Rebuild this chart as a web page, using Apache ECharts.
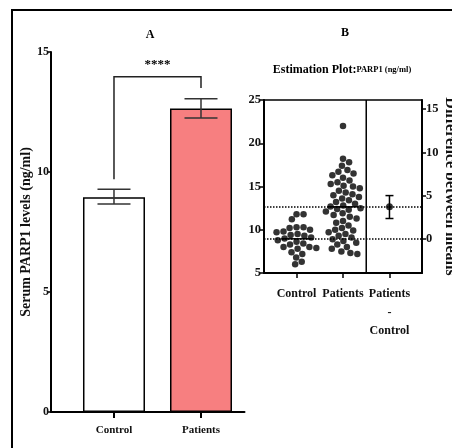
<!DOCTYPE html>
<html><head><meta charset="utf-8">
<script src="https://cdn.jsdelivr.net/npm/echarts@6/dist/echarts.min.js"></script>
<style>html,body{margin:0;padding:0;background:#fff}#c{width:452px;height:448px}</style>
</head><body><div id="c"></div>
<script>
// ---- Panel A data ----
const barCategories = ['Control', 'Patients'];
const barMeans = [8.95, 12.65];
const barErrLow = [8.67, 12.25];
const barErrHigh = [9.28, 13.05];
const barColors = ['#ffffff', '#f77f80'];
const barTicks = [0, 5, 10, 15];
const sigText = '****';
const bracketTop = 13.97;
const bracketLegs = [9.7, 13.5];
// ---- Panel B data ----
const estCategories = ['Control', 'Patients', 'Patients\n-\nControl'];
const controlValues = [11.8, 11.8, 11.2, 10.3, 10.3, 10.2, 10.0, 9.8, 9.7, 9.5, 9.4, 9.3, 9.1, 9.0, 8.8, 8.6, 8.4, 8.3, 8.0, 8.0, 7.9, 7.8, 7.4, 7.2, 6.8, 6.3, 6.0];
const patientsValues = [22.0, 18.2, 17.8, 17.4, 16.9, 16.7, 16.5, 16.3, 16.0, 15.7, 15.5, 15.3, 15.1, 15.0, 14.8,
  14.5, 14.3, 14.1, 14.0, 13.8, 13.6, 13.4, 13.2, 13.0, 12.8, 12.7, 12.5, 12.4, 12.3,
  12.1, 11.9, 11.7, 11.5, 11.3, 11.0, 10.8, 10.5, 10.2, 10.0, 9.9, 9.7,
  9.5, 9.3, 9.1, 8.9, 8.7, 8.5, 8.3, 8.0, 7.8, 7.5, 7.3, 7.2];
const groupMeans = [8.95, 12.65];
const diffMean = 3.7, diffLow = 2.35, diffHigh = 5.0;
const leftTicks = [5, 10, 15, 20, 25];
const rightTicks = [0, 5, 10, 15];

const FONT = 'Liberation Serif';
const TXT = '#111';
const chart = echarts.init(document.getElementById('c'));

const lblStyle = (size) => ({ color: TXT, fontFamily: FONT, fontWeight: 'bold', fontSize: size });

const option = {
  animation: false,
  backgroundColor: '#fff',
  graphic: [
    { type: 'rect', shape: { x: 12, y: 10, width: 520, height: 520 }, style: { fill: null, stroke: '#000', lineWidth: 2 } },
    { type: 'text', x: 150, y: 35, style: Object.assign({ text: 'A', align: 'center', verticalAlign: 'middle' }, lblStyle(12)) },
    { type: 'text', x: 345, y: 33, style: Object.assign({ text: 'B', align: 'center', verticalAlign: 'middle' }, lblStyle(12)) },
    { type: 'text', x: 342, y: 70, style: {
        text: '{a|Estimation Plot:}{b|PARP1 (ng/ml)}', align: 'center', verticalAlign: 'middle',
        rich: { a: lblStyle(12), b: lblStyle(8.5) } } }
  ],
  grid: [
    { left: 51, top: 52, width: 193.5, height: 360, outerBoundsMode: 'none', containLabel: false },
    { left: 264, top: 100, width: 158, height: 173, outerBoundsMode: 'none', containLabel: false }
  ],
  xAxis: [
    { gridIndex: 0, type: 'value', min: 0.276, max: 2.5, splitLine: { show: false },
      axisLine: { show: true, onZero: false, lineStyle: { color: '#000', width: 2 } },
      axisTick: { show: true, customValues: [1, 2], length: 6, lineStyle: { color: '#000', width: 2 } },
      axisLabel: Object.assign({ customValues: [1, 2], margin: 13, formatter: v => barCategories[Math.round(v) - 1] }, lblStyle(11)) },
    { gridIndex: 1, type: 'value', min: 0.3, max: 3.7, splitLine: { show: false },
      axisLine: { show: true, onZero: false, lineStyle: { color: '#000', width: 2 } },
      axisTick: { show: true, customValues: [1, 2, 3], length: 5, lineStyle: { color: '#000', width: 1.5 } },
      axisLabel: Object.assign({ customValues: [1, 2, 3], margin: 12, lineHeight: 18.5, verticalAlign: 'top',
        formatter: v => estCategories[Math.round(v) - 1] }, lblStyle(12)) },
    { gridIndex: 1, type: 'value', position: 'top', min: 0.3, max: 3.7, splitLine: { show: false },
      axisLine: { show: true, onZero: false, lineStyle: { color: '#000', width: 1.5 } },
      axisTick: { show: false }, axisLabel: { show: false } }
  ],
  yAxis: [
    { gridIndex: 0, type: 'value', min: 0, max: 15, interval: 5, splitLine: { show: false },
      axisLine: { show: true, lineStyle: { color: '#000', width: 2 } },
      axisTick: { show: true, length: 4, lineStyle: { color: '#000', width: 1.5 } },
      axisLabel: Object.assign({ margin: 2, customValues: barTicks }, lblStyle(12)),
      name: 'Serum PARP1 levels (ng/ml)', nameLocation: 'middle', nameGap: 16, nameRotate: 90,
      nameTextStyle: lblStyle(14) },
    { gridIndex: 1, type: 'value', min: leftTicks[0], max: leftTicks[leftTicks.length - 1], interval: 5, splitLine: { show: false },
      axisLine: { show: true, lineStyle: { color: '#000', width: 2 } },
      axisTick: { show: true, length: 4, lineStyle: { color: '#000', width: 1.5 } },
      axisLabel: Object.assign({ margin: 3 }, lblStyle(12.5)) },
    { gridIndex: 1, type: 'value', position: 'right',
      min: leftTicks[0] - groupMeans[0], max: leftTicks[leftTicks.length - 1] - groupMeans[0], splitLine: { show: false },
      axisLine: { show: true, lineStyle: { color: '#000', width: 2 } },
      axisTick: { show: true, customValues: rightTicks, length: 4, lineStyle: { color: '#000', width: 1.5 } },
      axisLabel: Object.assign({ margin: 4, customValues: rightTicks }, lblStyle(12.5)),
      name: 'Difference between means', nameLocation: 'middle', nameGap: 20, nameRotate: -90,
      nameTextStyle: lblStyle(16) }
  ],
  series: [
    { type: 'bar', xAxisIndex: 0, yAxisIndex: 0, barWidth: 62,
      data: barMeans.map((m, i) => ({ value: [i + 1, m], itemStyle: { color: barColors[i], borderColor: '#000', borderWidth: 1.5 } })) },
    { type: 'custom', xAxisIndex: 0, yAxisIndex: 0, z: 5,
      data: barMeans.map((m, i) => [i + 1, barErrLow[i], barErrHigh[i]]),
      renderItem: (params, api) => {
        const lo = api.coord([api.value(0), api.value(1)]);
        const hi = api.coord([api.value(0), api.value(2)]);
        const hw = 16.5, st = { stroke: '#333', lineWidth: 1.5 };
        return { type: 'group', children: [
          { type: 'line', shape: { x1: lo[0], y1: lo[1], x2: hi[0], y2: hi[1] }, style: st },
          { type: 'line', shape: { x1: lo[0] - hw, y1: lo[1], x2: lo[0] + hw, y2: lo[1] }, style: st },
          { type: 'line', shape: { x1: hi[0] - hw, y1: hi[1], x2: hi[0] + hw, y2: hi[1] }, style: st }
        ] };
      } },
    { type: 'custom', xAxisIndex: 0, yAxisIndex: 0, z: 5,
      data: [[1, 2, bracketTop, bracketLegs[0], bracketLegs[1]]],
      renderItem: (params, api) => {
        const a = api.coord([api.value(0), api.value(3)]);
        const b = api.coord([api.value(0), api.value(2)]);
        const c = api.coord([api.value(1), api.value(2)]);
        const d = api.coord([api.value(1), api.value(4)]);
        return { type: 'group', children: [
          { type: 'polyline', shape: { points: [a, b, c, d] }, style: { stroke: '#222', lineWidth: 1.5, fill: null } },
          { type: 'text', x: (b[0] + c[0]) / 2, y: b[1] - 12, style: Object.assign({ text: sigText, align: 'center', verticalAlign: 'middle' }, lblStyle(13)) }
        ] };
      } },
    // Panel B: divider line
    { type: 'custom', xAxisIndex: 1, yAxisIndex: 1, z: 3,
      data: [[2.5, leftTicks[0], leftTicks[leftTicks.length - 1]]],
      renderItem: (params, api) => {
        const a = api.coord([api.value(0), api.value(1)]);
        const b = api.coord([api.value(0), api.value(2)]);
        return { type: 'line', shape: { x1: a[0], y1: a[1], x2: b[0], y2: b[1] }, style: { stroke: '#000', lineWidth: 1.5 } };
      },
      markLine: { silent: true, symbol: 'none', label: { show: false },
        lineStyle: { color: '#000', type: [1.5, 1.5], width: 1.5 },
        data: groupMeans.map(m => ({ yAxis: m })) } },
    // group mean lines
    { type: 'custom', xAxisIndex: 1, yAxisIndex: 1, z: 4,
      data: groupMeans.map((m, i) => [i + 1, m]),
      renderItem: (params, api) => {
        const l = api.coord([api.value(0) - 0.33, api.value(1)]);
        const r = api.coord([api.value(0) + 0.33, api.value(1)]);
        return { type: 'line', shape: { x1: l[0], y1: l[1], x2: r[0], y2: r[1] }, style: { stroke: '#000', lineWidth: 1.5 } };
      } },
    { id: 'swarm', type: 'scatter', xAxisIndex: 1, yAxisIndex: 1, symbolSize: 6.5, z: 6,
      itemStyle: { color: '#000' }, data: [] },
    // difference with CI
    { type: 'custom', xAxisIndex: 1, yAxisIndex: 2, z: 5,
      data: [[3, diffLow, diffHigh]],
      renderItem: (params, api) => {
        const lo = api.coord([api.value(0), api.value(1)]);
        const hi = api.coord([api.value(0), api.value(2)]);
        const hw = 4, st = { stroke: '#000', lineWidth: 1.5 };
        return { type: 'group', children: [
          { type: 'line', shape: { x1: lo[0], y1: lo[1], x2: hi[0], y2: hi[1] }, style: st },
          { type: 'line', shape: { x1: lo[0] - hw, y1: lo[1], x2: lo[0] + hw, y2: lo[1] }, style: st },
          { type: 'line', shape: { x1: hi[0] - hw, y1: hi[1], x2: hi[0] + hw, y2: hi[1] }, style: st }
        ] };
      } },
    { type: 'scatter', xAxisIndex: 1, yAxisIndex: 2, symbolSize: 7, z: 6, itemStyle: { color: '#000' },
      data: [[3, diffMean]] }
  ]
};
chart.setOption(option);

// deterministic beeswarm layout in pixel space
function swarm(values, cx, D) {
  const finder = { xAxisIndex: 1, yAxisIndex: 1 };
  const p0 = chart.convertToPixel(finder, [cx, values[0]]);
  const p1 = chart.convertToPixel(finder, [cx + 1, values[0]]);
  const pxPerUnit = p1[0] - p0[0];
  const placed = [];
  const out = [];
  values.slice().sort((a, b) => b - a).forEach(v => {
    const py = chart.convertToPixel(finder, [cx, v])[1];
    const cands = [0];
    placed.forEach(p => {
      const dy = Math.abs(p.y - py);
      if (dy < D) { const dx = Math.sqrt(D * D - dy * dy); cands.push(p.x + dx, p.x - dx); }
    });
    cands.sort((a, b) => Math.abs(a) - Math.abs(b) || b - a);
    let best = 0;
    for (const c of cands) {
      if (placed.every(p => (p.x - c) ** 2 + (p.y - py) ** 2 >= D * D - 0.01)) { best = c; break; }
    }
    placed.push({ x: best, y: py });
    out.push([cx + best / pxPerUnit, v]);
  });
  return out;
}
const swarmData = swarm(controlValues, 1, 7).concat(swarm(patientsValues, 2, 7));
chart.setOption({ series: [{ id: 'swarm', data: swarmData }] });
</script></body></html>
